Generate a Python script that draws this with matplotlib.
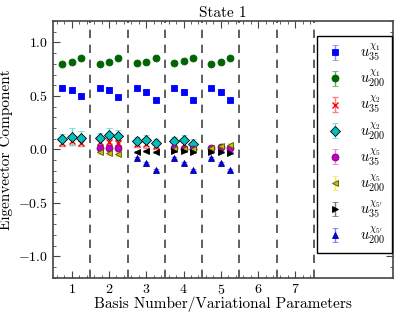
import matplotlib
matplotlib.use("Agg")
import matplotlib.pyplot as plt
import numpy as np

plt.rcParams['font.family'] = 'serif'
plt.rcParams['font.serif'] = ['cmr10']
plt.rcParams['mathtext.fontset'] = 'cm'
plt.rcParams['axes.formatter.use_mathtext'] = True

# three variational parameters plotted around each basis number
OFFSETS = [-0.25, 0.0, 0.25]

chi1_35_basis = [1, 2, 3, 4, 5]
chi1_35 = [[0.578, 0.555, 0.495], [0.578, 0.555, 0.490], [0.575, 0.535, 0.465],
           [0.575, 0.535, 0.465], [0.575, 0.535, 0.465]]
chi1_35_err = [[0.02, 0.03, 0.02]] * 5

chi1_200_basis = [1, 2, 3, 4, 5]
chi1_200 = [[0.800, 0.815, 0.857], [0.800, 0.815, 0.857], [0.805, 0.820, 0.857],
            [0.805, 0.822, 0.857], [0.800, 0.818, 0.857]]
chi1_200_err = [[0.01, 0.01, 0.01]] * 5

chi2_35_basis = [1, 2, 3, 4]
chi2_35 = [[0.06, 0.08, 0.06], [0.07, 0.07, 0.06], [0.05, 0.05, 0.03], [0.05, 0.05, 0.03]]
chi2_35_err = [[0.03, 0.04, 0.03]] * 4

chi2_200_basis = [1, 2, 3, 4]
chi2_200 = [[0.095, 0.120, 0.105], [0.105, 0.135, 0.125], [0.080, 0.085, 0.060],
            [0.080, 0.085, 0.055]]
chi2_200_err = [[0.05, 0.08, 0.07], [0.05, 0.07, 0.06], [0.04, 0.05, 0.04], [0.04, 0.05, 0.04]]

chi5_35_basis = [2, 4, 5]
chi5_35 = [[0.010, 0.015, 0.010], [0.010, 0.008, 0.005], [0.015, 0.020, 0.015]]
chi5_35_err = [[0.01, 0.01, 0.01]] * 3

chi5_200_basis = [2, 4, 5]
chi5_200 = [[-0.025, -0.030, -0.040], [0.000, 0.005, 0.002], [0.010, 0.030, 0.040]]
chi5_200_err = [[0.02, 0.02, 0.02]] * 3

chi5p_35_basis = [3, 4, 5]
chi5p_35 = [[-0.020, -0.015, -0.025], [-0.015, -0.015, -0.025], [-0.020, -0.020, -0.030]]
chi5p_35_err = [[0.01, 0.01, 0.01]] * 3

chi5p_200_basis = [3, 4, 5]
chi5p_200 = [[-0.08, -0.13, -0.19], [-0.08, -0.13, -0.19], [-0.08, -0.13, -0.19]]
chi5p_200_err = [[0.01, 0.01, 0.01]] * 3

# basis 3 draws the chi5' (35) points with left-pointing triangles
LEFT_MARKER_BASIS = {"chi5p_35": [3]}

series = [
    ("chi1_35", chi1_35_basis, chi1_35, chi1_35_err, r'$u_{35}^{\chi_1}$', 's', 'blue', 'blue', '#8888ff'),
    ("chi1_200", chi1_200_basis, chi1_200, chi1_200_err, r'$u_{200}^{\chi_1}$', 'o', 'darkgreen', 'darkgreen', '#66aa66'),
    ("chi2_35", chi2_35_basis, chi2_35, chi2_35_err, r'$u_{35}^{\chi_2}$', 'x', 'red', 'red', '#ff8080'),
    ("chi2_200", chi2_200_basis, chi2_200, chi2_200_err, r'$u_{200}^{\chi_2}$', 'D', 'c', 'k', '#66dddd'),
    ("chi5_35", chi5_35_basis, chi5_35, chi5_35_err, r'$u_{35}^{\chi_5}$', 'o', 'm', 'purple', '#dd88dd'),
    ("chi5_200", chi5_200_basis, chi5_200, chi5_200_err, r'$u_{200}^{\chi_5}$', '<', 'y', '#555500', '#eeee66'),
    ("chi5p_35", chi5p_35_basis, chi5p_35, chi5p_35_err, r"$u_{35}^{\chi_{5'}}$", '>', 'k', 'k', '#777777'),
    ("chi5p_200", chi5p_200_basis, chi5p_200, chi5p_200_err, r"$u_{200}^{\chi_{5'}}$", '^', 'blue', 'navy', '#7777ff'),
]

fig = plt.figure(figsize=(3.99, 3.14), dpi=100)
ax = fig.add_axes([0.133, 0.115, 0.852, 0.818])

for key, basis, vals, errs, label, marker, fc, ec, errc in series:
    groups = {marker: ([], [], [])}
    for b, v, e in zip(basis, vals, errs):
        m = '<' if b in LEFT_MARKER_BASIS.get(key, []) else marker
        g = groups.setdefault(m, ([], [], []))
        for off, vv, ee in zip(OFFSETS, v, e):
            g[0].append(b + off)
            g[1].append(vv)
            g[2].append(ee)
    for m, (xs, ys, es) in groups.items():
        if not xs:
            continue
        ax.errorbar(xs, ys, yerr=es, fmt=m, color=fc, mfc=fc, mec=ec,
                    ms=5 if m != 'x' else 4, mew=0.6 if m != 'x' else 1.0,
                    ecolor=errc, elinewidth=1.0, capsize=2.5, capthick=1.0,
                    label=label if m == marker else None)

for xv in np.arange(1.5, 8.0, 1.0):
    ax.axvline(xv, color='#444444', ls='--', lw=1.2, dashes=(5, 4))

ax.set_xlim(0.5, 9.62)
ax.set_ylim(-1.2, 1.2)
ax.set_xticks(range(1, 8))
ax.set_xticks(np.arange(0.6, 7.55, 0.2), minor=True)
ax.set_yticks([-1.0, -0.5, 0.0, 0.5, 1.0])
ax.set_yticks(np.arange(-1.2, 1.21, 0.1), minor=True)
ax.tick_params(which='both', direction='in', top=True, right=True, labelsize=10,
               color='#444444')
ax.tick_params(which='major', length=5)
ax.tick_params(which='minor', length=2.5)
for s in ax.spines.values():
    s.set_color('#444444')
    s.set_linewidth(1.2)

ax.set_title('State 1', fontsize=11, pad=3)
ax.set_xlabel('Basis Number/Variational Parameters', fontsize=11, labelpad=0)
ax.set_ylabel('Eigenvector Component', fontsize=11, labelpad=4)

leg = ax.legend(loc='upper right', bbox_to_anchor=(0.997, 0.942), fontsize=10.5,
                frameon=True, fancybox=False, edgecolor='k', framealpha=1,
                borderpad=0.45, labelspacing=0.37, handlelength=1.6,
                handletextpad=0.9, borderaxespad=0.0)
leg.get_frame().set_linewidth(1.0)

fig.savefig('out.png', dpi=100)
